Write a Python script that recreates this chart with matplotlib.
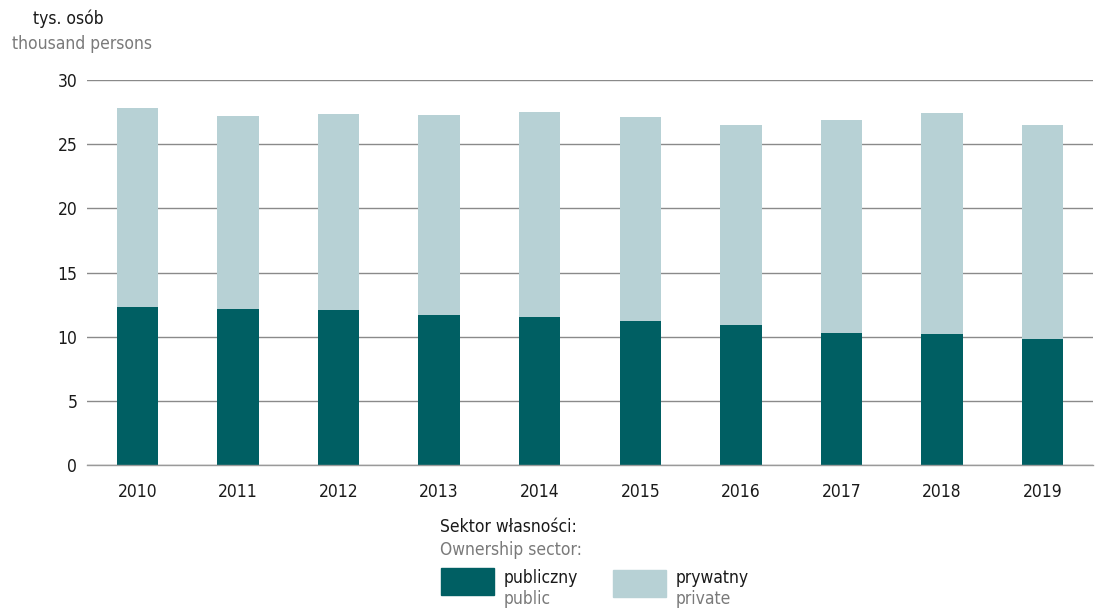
import matplotlib.pyplot as plt
from matplotlib.patches import Rectangle

years = ['2010', '2011', '2012', '2013', '2014', '2015', '2016', '2017', '2018', '2019']
public = [12.33, 12.15, 12.07, 11.68, 11.53, 11.24, 10.93, 10.28, 10.23, 9.81]
total = [27.80, 27.20, 27.34, 27.26, 27.49, 27.08, 26.53, 26.85, 27.41, 26.48]
private = [t - p for t, p in zip(total, public)]

dark = '#005f63'
light = '#b7d1d5'
grey_txt = '#7a7a7a'

plt.rcParams['font.family'] = ['DejaVu Sans']
plt.rcParams['font.stretch'] = 'condensed'
fs = 12.5

fig = plt.figure(figsize=(10.95, 6.08), dpi=100)
ax = fig.add_axes([87 / 1095, 1 - 465 / 608, 1006 / 1095, 385 / 608])

x = range(len(years))
ax.bar(x, public, width=0.41, color=dark, zorder=3)
ax.bar(x, private, width=0.41, bottom=public, color=light, zorder=3)

ax.set_xlim(-0.5, len(years) - 0.5)
ax.set_ylim(0, 30)
ax.set_yticks([0, 5, 10, 15, 20, 25, 30])
ax.set_xticks(list(x))
ax.set_xticklabels(years)
ax.yaxis.grid(True, color='#8a8a8a', linewidth=1.0, zorder=0)
ax.axhline(0, color='#9a9a9a', linewidth=1.0, zorder=4, clip_on=False)
ax.tick_params(length=0, labelsize=fs, colors='#1a1a1a')
ax.tick_params(axis='y', pad=7)
ax.tick_params(axis='x', pad=13)
for s in ax.spines.values():
    s.set_visible(False)

fig.text(68 / 1095, 1 - 19 / 608, 'tys. osób', ha='center', va='center', fontsize=fs, color='#1a1a1a')
fig.text(12 / 1095, 1 - 44 / 608, 'thousand persons', ha='left', va='center', fontsize=fs, color=grey_txt)

# legend
fig.text(440 / 1095, 1 - 527 / 608, 'Sektor własności:', ha='left', va='center', fontsize=fs, color='#1a1a1a')
fig.text(440 / 1095, 1 - 550 / 608, 'Ownership sector:', ha='left', va='center', fontsize=fs, color=grey_txt)
fig.add_artist(Rectangle((441 / 1095, 1 - 595 / 608), 53 / 1095, 27 / 608,
                         transform=fig.transFigure, color=dark))
fig.add_artist(Rectangle((613 / 1095, 1 - 597 / 608), 53 / 1095, 27 / 608,
                         transform=fig.transFigure, color=light))
fig.text(504 / 1095, 1 - 578 / 608, 'publiczny', ha='left', va='center', fontsize=fs, color='#1a1a1a')
fig.text(504 / 1095, 1 - 599 / 608, 'public', ha='left', va='center', fontsize=fs, color=grey_txt)
fig.text(676 / 1095, 1 - 578 / 608, 'prywatny', ha='left', va='center', fontsize=fs, color='#1a1a1a')
fig.text(676 / 1095, 1 - 599 / 608, 'private', ha='left', va='center', fontsize=fs, color=grey_txt)

fig.savefig('out.png', dpi=100)
